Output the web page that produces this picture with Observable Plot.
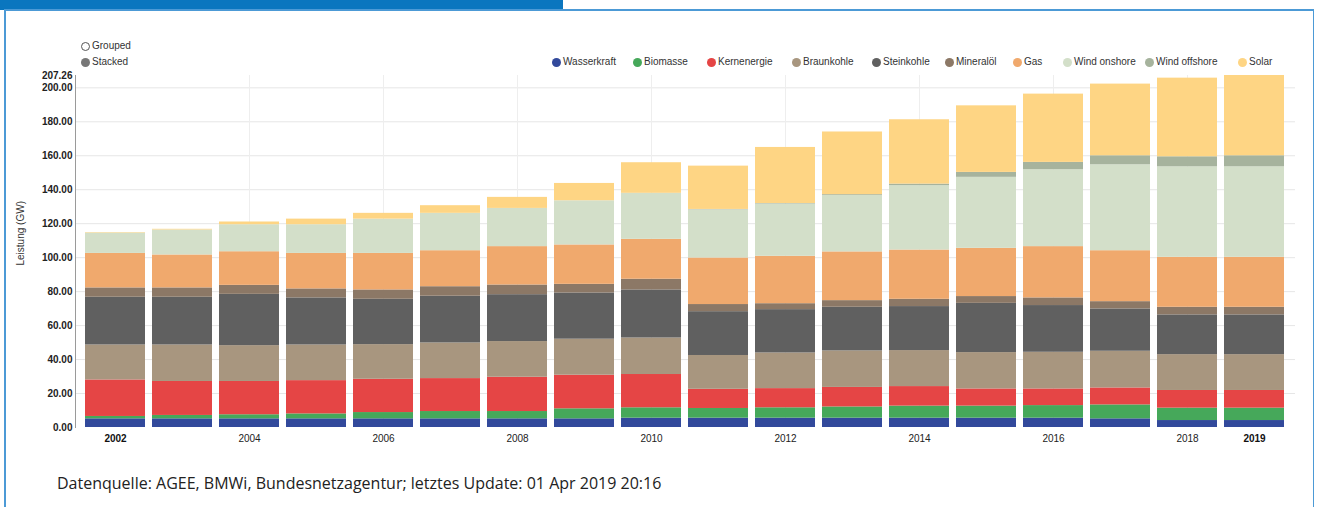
<!DOCTYPE html>
<html><head><meta charset="utf-8">
<script src="https://cdn.jsdelivr.net/npm/d3@7"></script>
<script src="https://cdn.jsdelivr.net/npm/@observablehq/plot@0.6"></script>
<style>
body{margin:0;background:#fff;font-family:"Liberation Sans",Arial,sans-serif;}
#wrap{position:relative;width:1318px;height:507px;overflow:hidden;background:#fff;}
#hdr{position:absolute;left:0;top:0;width:563px;height:10px;background:#0a76bf;}
#bt{position:absolute;left:4px;top:9px;width:1310px;height:1.5px;background:#4c9ad6;}
#bl{position:absolute;left:4px;top:9px;width:1.5px;height:500px;background:#4c9ad6;}
#br{position:absolute;left:1312.5px;top:9px;width:1.5px;height:500px;background:#4c9ad6;}
#chart{position:absolute;left:0;top:0;}
.lg{position:absolute;font-size:10px;color:#333;white-space:nowrap;line-height:12px;}
.lg .dot{position:absolute;left:-5px;top:1.5px;width:9px;height:9px;border-radius:50%;}
.lg span{position:absolute;left:6px;top:0;}
#caption{position:absolute;left:57px;top:472px;font-family:"Open Sans",sans-serif;font-size:16px;line-height:normal;color:#222;white-space:nowrap;}
</style></head><body>
<div id="wrap">
  <div id="hdr"></div><div id="bt"></div><div id="bl"></div><div id="br"></div>
  <div id="chart"></div>
  <div id="legend"></div>
  <div id="caption">Datenquelle: AGEE, BMWi, Bundesnetzagentur; letztes Update: 01 Apr 2019 20:16</div>
</div>
<script>
const years = [2002,2003,2004,2005,2006,2007,2008,2009,2010,2011,2012,2013,2014,2015,2016,2017,2018,2019];
const series = ["Wasserkraft","Biomasse","Kernenergie","Braunkohle","Steinkohle","Mineralöl","Gas","Wind onshore","Wind offshore","Solar"];
const colors = ["#32499b","#46a85a","#e54545","#a8967f","#606060","#8c7866","#f0a96d","#d3dfc9","#a6b39d","#fed584"];

const wasserkraft  = [5.1,5.1,5.1,5.1,5.1,5.1,5.1,5.1,5.5,5.5,5.5,5.5,5.5,5.5,5.5,5.1,4.1,4.1];
const biomasse     = [1.4,2.0,2.4,2.9,3.7,4.3,4.3,5.9,6.1,5.7,6.1,6.6,7.1,7.1,7.4,8.2,7.3,7.3];
const kernenergie  = [21.5,20.0,19.6,19.6,19.6,19.4,20.2,19.8,19.6,11.3,11.3,11.5,11.5,10.1,9.8,10.0,10.4,10.4];
const braunkohle   = [20.6,21.5,21.1,21.0,20.4,21.0,21.0,21.2,21.5,19.9,21.0,21.5,21.2,21.4,21.6,21.6,21.1,21.1];
const steinkohle   = [28.1,28.1,30.2,27.7,26.7,27.5,27.6,27.2,28.3,25.8,25.5,25.7,25.9,29.0,27.5,24.9,23.4,23.4];
const mineraloel   = [5.5,5.5,5.3,5.3,5.5,5.6,5.7,5.1,6.3,4.2,3.5,3.9,4.3,4.0,4.5,4.3,4.5,4.5];
const gas          = [20.3,19.4,19.8,20.9,21.5,21.2,22.6,23.2,23.5,27.4,27.9,28.7,29.0,28.4,30.2,30.0,29.4,29.4];
const windOnshore  = [12.0,14.7,15.9,16.9,20.2,22.0,22.5,26.0,27.0,28.4,30.8,33.2,37.9,41.8,45.3,50.6,53.3,53.3];
const windOffshore = [0,0,0,0,0,0,0,0,0.1,0.2,0.3,0.5,0.9,2.9,4.3,5.3,5.9,6.5];
const solar        = [0.3,0.4,1.6,3.3,3.4,4.5,6.5,10.2,18.0,25.5,33.0,36.9,37.9,39.2,40.2,42.2,46.3,47.26];

const yTicks = [0,20,40,60,80,100,120,140,160,180,200,207.26];
const xTicksNormal = ["2004","2006","2008","2010","2012","2014","2016","2018"];
const xTicksBold = ["2002","2019"];
const gridYears = ["2004","2006","2008","2010","2012","2014","2016","2018"];

const valuesBySeries = [wasserkraft,biomasse,kernenergie,braunkohle,steinkohle,mineraloel,gas,windOnshore,windOffshore,solar];
const rows = years.flatMap((yr,i) => series.map((s,j) => ({year:String(yr), series:s, value:valuesBySeries[j][i]})));

const chart = Plot.plot({
  width:1318, height:460,
  marginLeft:75, marginRight:23, marginTop:75, marginBottom:33,
  style:{fontFamily:"Liberation Sans, Arial, sans-serif", background:"transparent", overflow:"visible"},
  x:{domain:years.map(String), paddingInner:0.1, paddingOuter:0.104, axis:null},
  y:{domain:[0,207.26], axis:null},
  color:{domain:series, range:colors},
  marks:[
    Plot.gridY(yTicks.slice(1,-1), {stroke:"#e6e6e6", strokeOpacity:1}),
    Plot.gridX(gridYears, {stroke:"#eeeeee", strokeOpacity:1}),
    Plot.barY(rows, {x:"year", y:"value", fill:"series", order:series}),
    Plot.frame({anchor:"left", stroke:"#9a9a9a"}),
    Plot.axisY(yTicks, {tickSize:0, tickPadding:3, tickFormat:d => d.toFixed(2), fontWeight:"bold", fontSize:10, fill:"#222", label:null}),
    Plot.axisX(xTicksNormal, {tickSize:0, tickPadding:7, fontSize:10, fill:"#222", label:null}),
    Plot.axisX(xTicksBold, {tickSize:0, tickPadding:7, fontSize:10, fontWeight:"bold", fill:"#111", label:null}),
    Plot.text(["Leistung (GW)"], {text:d => d, frameAnchor:"left", rotate:-90, dx:-55, dy:14, fontSize:10, fill:"#333"})
  ]
});
document.getElementById("chart").appendChild(chart);

// legends
const legend = document.getElementById("legend");
const legendLeft = [557,638,712,797,877,950,1018,1068,1150,1243];
series.forEach((s,i) => {
  const d = document.createElement("div");
  d.className = "lg";
  d.style.left = legendLeft[i] + "px";
  d.style.top = "56px";
  d.innerHTML = `<div class="dot" style="background:${colors[i]}"></div><span>${s}</span>`;
  legend.appendChild(d);
});
const modes = [["Grouped", false, 40],["Stacked", true, 56]];
modes.forEach(([label, on, top]) => {
  const d = document.createElement("div");
  d.className = "lg";
  d.style.left = "86px";
  d.style.top = top + "px";
  d.innerHTML = on
    ? `<div class="dot" style="background:#777"></div><span>${label}</span>`
    : `<div class="dot" style="box-sizing:border-box;border:1px solid #555;background:#fff"></div><span>${label}</span>`;
  legend.appendChild(d);
});
</script>
</body></html>
